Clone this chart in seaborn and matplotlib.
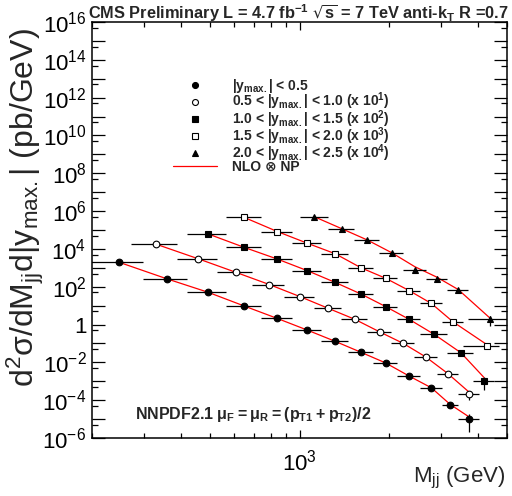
import numpy as np
import pandas as pd
import seaborn as sns
import matplotlib.pyplot as plt
from matplotlib.lines import Line2D
from matplotlib.ticker import FixedLocator, FuncFormatter, NullFormatter

# %%
# data: dijet mass spectrum in 5 |y|max bins (x-section in pb/GeV, unscaled)
ybin_labels = [r'|y$\mathregular{_{max.}}$| < 0.5',
               r'0.5 < |y$\mathregular{_{max.}}$| < 1.0 (x 10$\mathregular{^{1}}$)',
               r'1.0 < |y$\mathregular{_{max.}}$| < 1.5 (x 10$\mathregular{^{2}}$)',
               r'1.5 < |y$\mathregular{_{max.}}$| < 2.0 (x 10$\mathregular{^{3}}$)',
               r'2.0 < |y$\mathregular{_{max.}}$| < 2.5 (x 10$\mathregular{^{4}}$)']
scales = [1, 10, 100, 1000, 10000]
markers = ['o', 'o', 's', 's', '^']
filled = [True, False, True, False, True]

m_0 = [246, 358, 492, 652, 842, 1062, 1318, 1612, 1951, 2339, 2782, 3217, 3713]
lo_0 = [197, 296, 419, 565, 740, 944, 1181, 1455, 1770, 2132, 2546, 3019, 3416]
hi_0 = [296, 419, 565, 740, 944, 1181, 1455, 1770, 2132, 2546, 3019, 3416, 4010]
xs_0 = [2.0e3, 2.6e2, 51, 9.5, 2.1, 0.51, 0.13, 0.034, 9.3e-3, 1.9e-3, 4.3e-4, 5.6e-5, 1.0e-5]
th_0 = [2.0e3, 2.6e2, 51, 9.5, 2.1, 0.51, 0.13, 0.034, 9.3e-3, 1.9e-3, 4.5e-4, 6.0e-5, 1.35e-5]
er_0 = [0, 0, 0, 0, 0, 0, 0, 0, 0, 0.05, 0.3, 0.35, 0.8]

m_1 = [328, 456, 610, 792, 1004, 1250, 1535, 1862, 2238, 2667, 3156, 3713]
lo_1 = [270, 386, 526, 693, 890, 1118, 1383, 1687, 2037, 2438, 2895, 3416]
hi_1 = [386, 526, 693, 890, 1118, 1383, 1687, 2037, 2438, 2895, 3416, 4010]
xs_1 = [1.8e3, 3.0e2, 58, 13, 3.0, 0.72, 0.19, 0.041, 0.010, 1.9e-3, 2.5e-4, 2.0e-5]
th_1 = [1.8e3, 3.0e2, 58, 13, 3.0, 0.72, 0.19, 0.041, 0.010, 1.9e-3, 2.6e-4, 2.8e-5]
er_1 = [0, 0, 0, 0, 0, 0, 0, 0, 0, 0.05, 0.3, 0.5]

m_2 = [492, 652, 842, 1062, 1318, 1612, 1951, 2339, 2846, 3500, 4181]
lo_2 = [419, 565, 740, 944, 1181, 1455, 1770, 2132, 2546, 3147, 3854]
hi_2 = [565, 740, 944, 1181, 1455, 1770, 2132, 2546, 3147, 3854, 4509]
xs_2 = [6.2e2, 1.2e2, 29, 7.1, 1.7, 0.41, 0.089, 0.019, 3.0e-3, 3.0e-4, 1.0e-5]
th_2 = [6.2e2, 1.2e2, 29, 7.1, 1.7, 0.41, 0.089, 0.019, 3.0e-3, 3.2e-4, 1.6e-5]
er_2 = [0, 0, 0, 0, 0, 0, 0, 0, 0.05, 0.3, 0.65]

m_3 = [652, 842, 1062, 1318, 1612, 1951, 2339, 2782, 3288, 4286]
lo_3 = [565, 740, 944, 1181, 1455, 1770, 2132, 2546, 3019, 3558]
hi_3 = [740, 944, 1181, 1455, 1770, 2132, 2546, 3019, 3558, 4686]
xs_3 = [4.6e2, 83, 20, 5.6, 1.0, 0.28, 0.063, 0.013, 1.4e-3, 7.4e-5]
th_3 = [4.6e2, 83, 20, 5.6, 1.0, 0.28, 0.063, 0.013, 1.4e-3, 8.5e-5]
er_3 = [0, 0, 0, 0, 0, 0, 0, 0, 0.1, 0.35]

m_4 = [1123, 1388, 1693, 2044, 2445, 2903, 3425, 4381]
lo_4 = [1000, 1246, 1530, 1856, 2231, 2659, 3147, 3704]
hi_4 = [1246, 1530, 1856, 2231, 2659, 3147, 3704, 5058]
xs_4 = [48, 11.5, 2.8, 0.59, 0.079, 0.025, 6.5e-3, 1.9e-4]
th_4 = [50, 11.7, 2.95, 0.63, 0.115, 0.032, 7.1e-3, 2.2e-4]
er_4 = [0, 0, 0, 0, 0.05, 0.1, 0.15, 0.55]

mass = [m_0, m_1, m_2, m_3, m_4]
m_lo = [lo_0, lo_1, lo_2, lo_3, lo_4]
m_hi = [hi_0, hi_1, hi_2, hi_3, hi_4]
xsec = [xs_0, xs_1, xs_2, xs_3, xs_4]
theory = [th_0, th_1, th_2, th_3, th_4]
stat = [er_0, er_1, er_2, er_3, er_4]

rows = []
for i in range(5):
    for j in range(len(mass[i])):
        rows.append({'bin': i, 'm': mass[i][j], 'lo': m_lo[i][j], 'hi': m_hi[i][j],
                     'y': xsec[i][j] * scales[i], 'th': theory[i][j] * scales[i],
                     'err': stat[i][j] * xsec[i][j] * scales[i]})
df = pd.DataFrame(rows)

# %%
sns.set_theme(style='ticks')
plt.rcParams['font.family'] = ['Liberation Sans', 'DejaVu Sans']
plt.rcParams['mathtext.default'] = 'regular'

fig = plt.figure(figsize=(5.12, 4.96), dpi=100)
ax = fig.add_axes([92 / 512, 58 / 496, 415 / 512, 416 / 496])
ax.set_xscale('log')
ax.set_yscale('log')
ax.set_xlim(200, 5000)
ax.set_ylim(1e-6, 1e16)

sns.lineplot(data=df, x='m', y='th', units='bin', estimator=None, color='red',
             lw=0.9, ax=ax, legend=False, zorder=2)

for i in range(5):
    d = df[df.bin == i]
    ax.errorbar(d.m, d.y, xerr=[d.m - d.lo, d.hi - d.m], yerr=d.err, fmt='none',
                ecolor='black', elinewidth=0.9, capsize=0, zorder=3)
    ax.plot(d.m, d.y, ls='none', marker=markers[i], ms=4.8 if markers[i] != '^' else 5.0,
            mfc='black' if filled[i] else 'white', mec='black', mew=0.8, zorder=4)

# axes and ticks, ROOT style
for s in ax.spines.values():
    s.set_linewidth(1.1)
    s.set_color('black')
ax.xaxis.set_major_locator(FixedLocator([1000]))
ax.xaxis.set_minor_locator(FixedLocator([200, 300, 400, 500, 600, 700, 800, 900, 2000, 3000, 4000, 5000]))
ax.xaxis.set_major_formatter(FuncFormatter(lambda v, p: r'$\mathregular{10^{3}}$'))
ax.xaxis.set_minor_formatter(NullFormatter())
ax.yaxis.set_major_locator(FixedLocator(10.0 ** np.arange(-6, 17)))
ax.yaxis.set_minor_locator(FixedLocator(5 * 10.0 ** np.arange(-7, 16)))


def ylab(v, p):
    e = int(round(np.log10(v)))
    if e % 2:
        return ''
    if e == 0:
        return '1'
    return r'$\mathregular{10^{%d}}$' % e


ax.yaxis.set_major_formatter(FuncFormatter(ylab))
ax.yaxis.set_minor_formatter(NullFormatter())
ax.tick_params(which='both', direction='in', top=True, right=True, color='black', width=0.9,
               labelsize=16, labelcolor='black')
ax.tick_params(axis='y', which='major', length=9.5, pad=4)
ax.tick_params(axis='y', which='minor', length=4.3)
ax.tick_params(axis='x', which='major', length=6, pad=8)
ax.tick_params(axis='x', which='minor', length=3.6)

ax.set_xlabel(r'$\mathregular{M_{jj}}$ (GeV)', fontsize=16, loc='right')
ax.xaxis.set_label_coords(0.995, -0.065)
ax.set_ylabel(r'$\mathregular{d^{2}σ/dM_{jj}d|y_{max.}|}$ (pb/GeV)', fontsize=23, loc='top')
ax.yaxis.set_label_coords(-0.11, 0.985)

ax.text(-0.01, 1.007, r'CMS Preliminary L = 4.7 fb$\mathregular{^{-1}}$ $\mathregular{\sqrt{s}}$ = 7 TeV anti-k$\mathregular{_{T}}$ R =0.7',
        transform=ax.transAxes, ha='left', va='baseline', fontsize=11.8, fontweight='bold')
ax.text(0.104, 0.045, r'NNPDF2.1 $\mathregular{μ_{F}=μ_{R}=(p_{T1}+p_{T2})/2}$',
        transform=ax.transAxes, ha='left', va='baseline', fontsize=11.5, fontweight='bold')

handles = []
for i in range(5):
    handles.append(Line2D([], [], ls='none', marker=markers[i], ms=4.3,
                          mfc='black' if filled[i] else 'white', mec='black', mew=0.8))
handles.append(Line2D([], [], color='red', lw=0.9))
leg = ax.legend(handles, ybin_labels + ['NLO ⊗ NP'], loc='upper left',
                bbox_to_anchor=(0.195, 0.867), frameon=False, borderpad=0, borderaxespad=0,
                handlelength=3.2, handletextpad=1.05, labelspacing=-0.32,
                prop={'size': 10, 'weight': 'bold', 'family': ['Liberation Sans', 'DejaVu Sans']})

fig.savefig('out.png', dpi=100)
